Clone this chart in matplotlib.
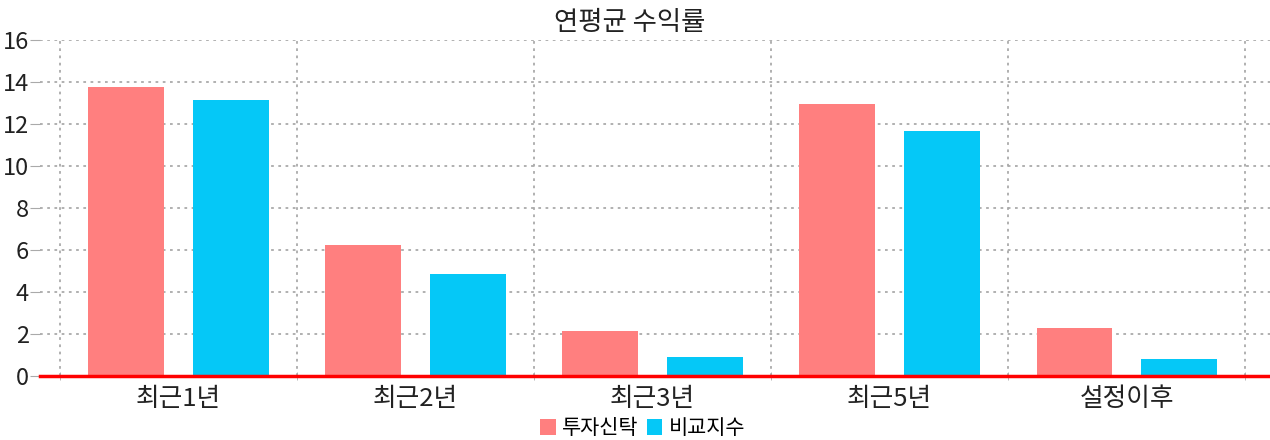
import matplotlib
matplotlib.use("Agg")
import matplotlib.pyplot as plt
import numpy as np

plt.rcParams['font.family'] = ['Noto Sans CJK KR', 'DejaVu Sans']

categories = ["최근1년", "최근2년", "최근3년", "최근5년", "설정이후"]
fund = [13.76, 6.24, 2.14, 12.95, 2.29]
bench = [13.14, 4.86, 0.90, 11.67, 0.81]
series_names = ["투자신탁", "비교지수"]
colors = ["#ff7f7f", "#05c8f7"]

fig = plt.figure(figsize=(12.7, 4.4), dpi=100)
ax = fig.add_axes([0.0315, 0.145, 0.9685, 0.764])

x = np.arange(len(categories))
w = 0.32
ax.bar(x - 0.22, fund, w, color=colors[0], label=series_names[0], zorder=3)
ax.bar(x + 0.22, bench, w, color=colors[1], label=series_names[1], zorder=3)

ax.set_ylim(0, 16)
ax.set_yticks(range(0, 17, 2))
ax.set_xlim(-0.584, 4.605)
ax.set_xticks(x)
ax.set_xticklabels(categories, fontsize=18.5, color="#222222")
ax.set_xticks(np.arange(-0.5, 5.0, 1.0), minor=True)
ax.tick_params(axis='x', which='major', length=0, pad=7)
ax.tick_params(axis='x', which='minor', length=6, color="#aaaaaa", direction='inout')
ax.tick_params(axis='y', length=7, color="#aaaaaa", labelsize=17, labelcolor="#222222", pad=1)

for s in ax.spines.values():
    s.set_visible(False)

ax.grid(axis='y', which='major', linestyle=(0, (1.5, 2.5)), color="#aaaaaa", linewidth=1.3, zorder=0)
ax.grid(axis='x', which='minor', linestyle=(0, (1.5, 2.5)), color="#aaaaaa", linewidth=1.3, zorder=0)
ax.axhline(0, color="#ff0000", linewidth=2.5, zorder=4, clip_on=False)

fig.suptitle("연평균 수익률", fontsize=19, color="#222222", x=0.496, y=0.05 + 0.9, va='center')

ax.legend(loc='center', bbox_to_anchor=(0.49, -0.155), ncol=2, frameon=False,
          fontsize=15, handlelength=0.75, handleheight=0.75, handletextpad=0.3,
          columnspacing=0.4, borderaxespad=0, borderpad=0)

fig.savefig("out.png", dpi=100)
